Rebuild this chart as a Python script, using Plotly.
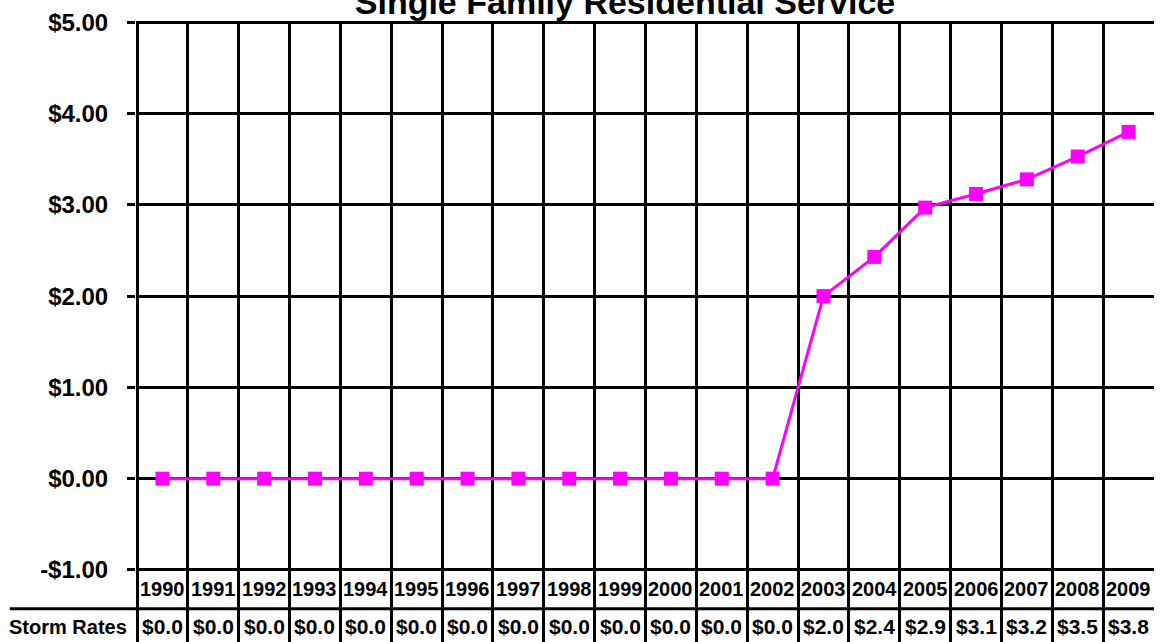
import math
import plotly.graph_objects as go

years = [str(y) for y in range(1990, 2010)]
rates = [0, 0, 0, 0, 0, 0, 0, 0, 0, 0, 0, 0, 0, 2.00, 2.43, 2.97, 3.12, 3.28, 3.53, 3.80]
y_ticks = [-1, 0, 1, 2, 3, 4, 5]
y_tick_text = ["-$1.00", "$0.00", "$1.00", "$2.00", "$3.00", "$4.00", "$5.00"]
title_text = "Single Family Residential Service"
row_label = "Storm Rates"

FONT = "Liberation Sans, Arial, sans-serif"
n = len(years)
xs = list(range(n))
rate_labels = ["$%.1f" % (math.floor(v * 10 + 1e-9) / 10) for v in rates]

YEAR_ROW_Y = -1.21
VALUE_ROW_Y = -1.625
ROW_DIVIDER_Y = -1.426
Y_MIN = -1.79

fig = go.Figure()
fig.add_trace(go.Scatter(
    x=xs, y=rates, mode="lines+markers",
    line=dict(color="#FF00FF", width=3),
    marker=dict(symbol="square", size=14, color="#FF00FF"),
    showlegend=False, hoverinfo="skip", cliponaxis=False,
))

annotations = []
for i, yr in enumerate(years):
    annotations.append(dict(x=i, y=YEAR_ROW_Y, xref="x", yref="y", text="<b>%s</b>" % yr,
                            showarrow=False, font=dict(family=FONT, size=20, color="black")))
    annotations.append(dict(x=i, y=VALUE_ROW_Y, xref="x", yref="y", text="<b>%s</b>" % rate_labels[i],
                            showarrow=False, font=dict(family=FONT, size=21, color="black")))
annotations.append(dict(x=-0.127, y=VALUE_ROW_Y, xref="paper", yref="y", xanchor="left",
                        text="<b>%s</b>" % row_label, showarrow=False,
                        font=dict(family=FONT, size=20, color="black")))

fig.update_layout(
    width=1161, height=642,
    margin=dict(l=136, r=7, t=21, b=0),
    paper_bgcolor="white", plot_bgcolor="white",
    title=dict(text="<b>%s</b>" % title_text, x=625 / 1161, xanchor="center",
               y=0.997, yanchor="middle", xref="container", yref="container",
               font=dict(family=FONT, size=34, color="black")),
    annotations=annotations,
    shapes=[dict(type="line", xref="paper", yref="y", x0=-0.124, x1=1.0,
                 y0=ROW_DIVIDER_Y, y1=ROW_DIVIDER_Y, line=dict(color="black", width=3))],
    xaxis=dict(range=[-0.52, n - 0.5], tickvals=[i - 0.5 for i in range(n)],
               showticklabels=False, ticks="", showgrid=True, gridcolor="black",
               gridwidth=3, zeroline=False, showline=False, fixedrange=True),
    yaxis=dict(range=[Y_MIN, 5.015], tickvals=y_ticks, ticktext=["<b>%s</b>" % t for t in y_tick_text],
               showgrid=True, gridcolor="black", gridwidth=3, zeroline=False,
               ticks="outside", ticklen=8, tickwidth=3, tickcolor="black",
               ticklabelstandoff=14, showline=False,
               tickfont=dict(family=FONT, size=24, color="black"), fixedrange=True),
)

fig.write_html("out.html")
